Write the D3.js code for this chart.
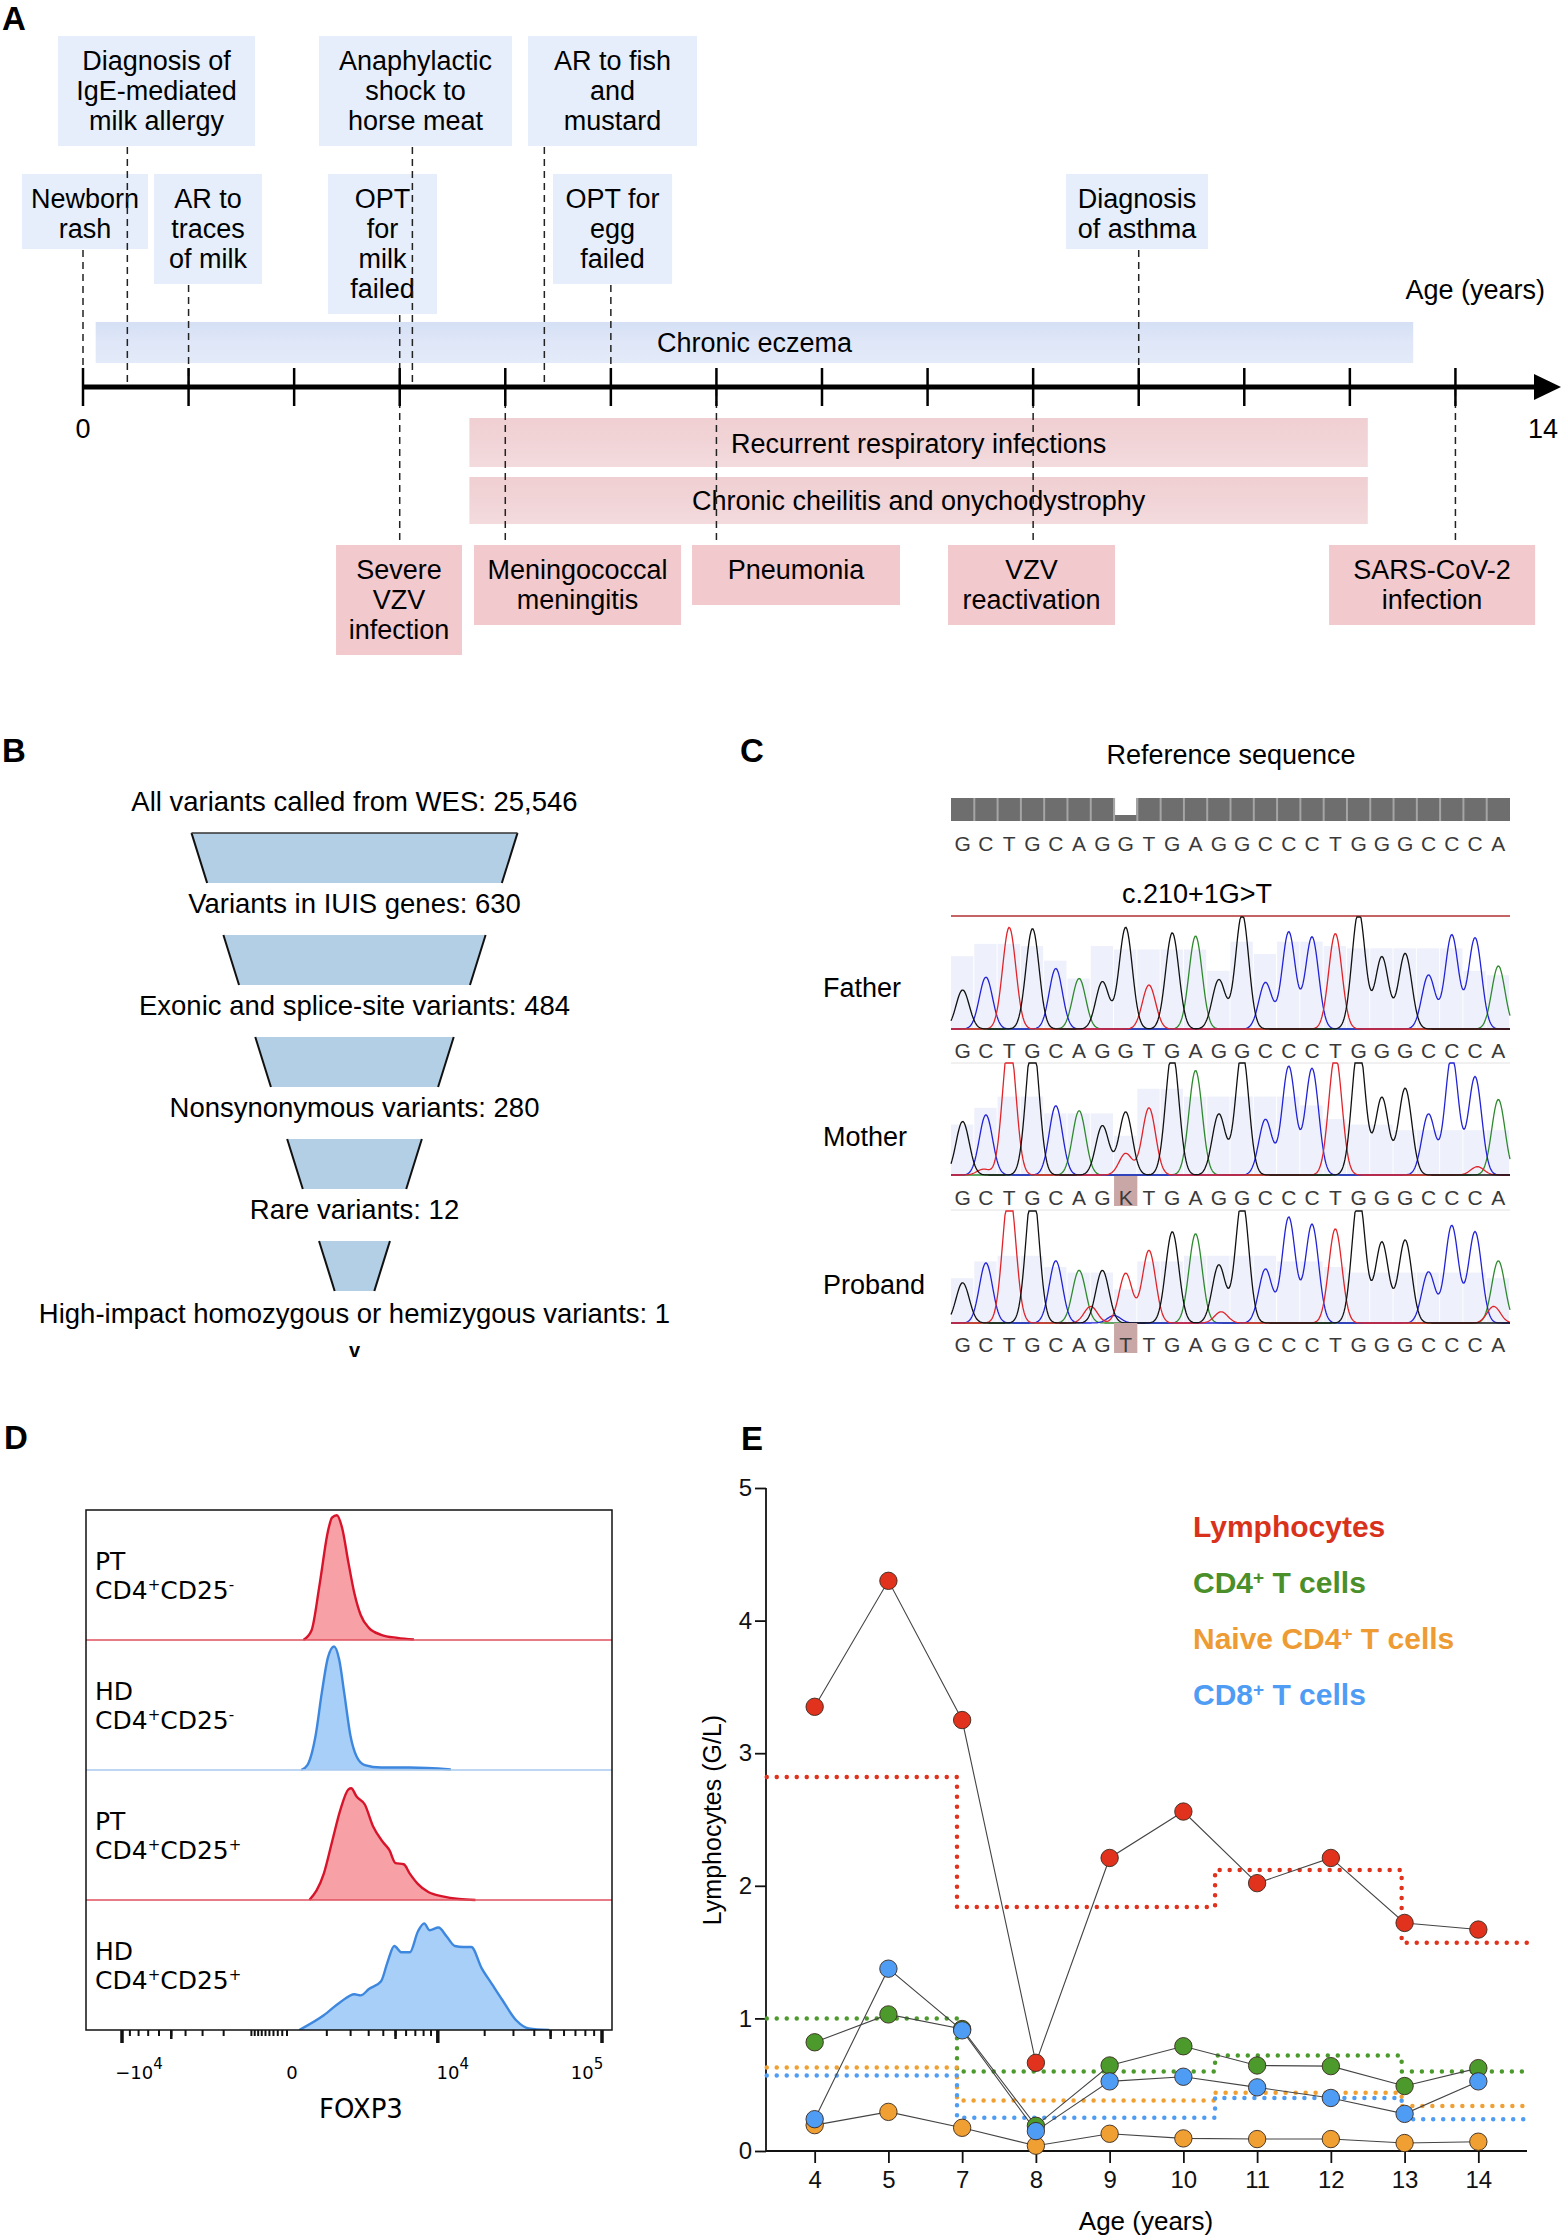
<!DOCTYPE html>
<html><head><meta charset="utf-8">
<script src="https://cdn.jsdelivr.net/npm/d3@7"></script>
<style>body{margin:0;background:#fff}svg{display:block}</style>
</head><body>
<svg id="fig" width="1564" height="2239"></svg>
<script>
// ================= DATA =================
// Panel A – timeline (ages in years)
const timelineTicks = d3.range(0, 14);
const timelineEnd = 14;
const spanLabels = ["Chronic eczema", "Recurrent respiratory infections", "Chronic cheilitis and onychodystrophy"];
const spanStart = [0.12, 3.66, 3.66];
const spanEnd = [12.6, 12.17, 12.17];
const spanKind = ["allergy", "infection", "infection"];

const eventLabels = [
  ["Newborn", "rash"], ["Diagnosis of", "IgE-mediated", "milk allergy"], ["AR to", "traces", "of milk"],
  ["OPT", "for", "milk", "failed"], ["Anaphylactic", "shock to", "horse meat"], ["AR to fish", "and", "mustard"],
  ["OPT for", "egg", "failed"], ["Diagnosis", "of asthma"], ["Severe", "VZV", "infection"],
  ["Meningococcal", "meningitis"], ["Pneumonia"], ["VZV", "reactivation"], ["SARS-CoV-2", "infection"]
];
const eventAge = [0, 0.42, 1, 3, 3.12, 4.37, 5, 10, 3, 4, 6, 9, 13];
const eventBoxFrom = [-0.578, -0.237, 0.673, 2.321, 2.236, 4.215, 4.452, 9.311, 2.397, 3.704, 5.769, 8.194, 11.803];
const eventBoxTo = [0.616, 1.629, 1.696, 3.353, 4.064, 5.816, 5.580, 10.656, 3.590, 5.665, 7.739, 9.776, 13.755];
const eventTier = [2, 1, 2, 2, 1, 1, 2, 2, 3, 3, 3, 3, 3];
const eventKind = ["allergy","allergy","allergy","allergy","allergy","allergy","allergy","allergy","infection","infection","infection","infection","infection"];

// Panel B – variant filtering funnel
const funnelLabels = ["All variants called from WES: 25,546", "Variants in IUIS genes: 630",
  "Exonic and splice-site variants: 484", "Nonsynonymous variants: 280", "Rare variants: 12",
  "High-impact homozygous or hemizygous variants: 1"];

// Panel C – Sanger sequencing
const refSequence = "GCTGCAGGTGAGGCCCTGGGCCCA".split("");
const variantIndex = 7;
const sampleNames = ["Father", "Mother", "Proband"];
const sampleCalls = ["GCTGCAGGTGAGGCCCTGGGCCCA".split(""), "GCTGCAGKTGAGGCCCTGGGCCCA".split(""), "GCTGCAGTTGAGGCCCTGGGCCCA".split("")];
const fatherPeaks = [94,125,245,242,146,122,114,245,106,232,224,119,278,112,234,222,230,285,174,182,130,227,220,152];
const motherPeaks = [129,145,330,330,167,155,119,152,162,300,252,147,300,134,262,257,290,320,187,209,147,290,237,182];
const probandPeaks = [97,145,320,330,150,127,127,120,175,220,215,140,300,130,255,238,227,310,195,200,123,235,220,150];
const peakBase = [
  "GCTGCAGGTGAGGCCCTGGGCCCA".split(""),
  "GCTGCAGGTGAGGCCCTGGGCCCA".split(""),
  "GCTGCAGTTGAGGCCCTGGGCCCA".split("")
];
// minor peaks: [sample, position, base, height]
const minorPeaks = [[1, 7, "T", 52], [1, 0.9, "T", 14], [1, 22.1, "T", 20], [2, 5.5, "T", 40], [2, 11.1, "T", 27], [2, 22.8, "T", 40], [2, 6.5, "C", 18]];
const fatherQual = [0.65,0.76,0.76,0.74,0.61,0.45,0.74,0.71,0.71,0.71,0.71,0.52,0.78,0.67,0.78,0.78,0.74,0.72,0.72,0.72,0.72,0.72,0.52,0.48];
const motherQual = [0.45,0.6,0.7,0.7,0.55,0.55,0.55,0.35,0.77,0.77,0.7,0.7,0.7,0.7,0.7,0.62,0.5,0.45,0.45,0.4,0.4,0.4,0.4,0.4];
const probandQual = [0.4,0.55,0.6,0.6,0.5,0.45,0.45,0.3,0.55,0.55,0.6,0.6,0.6,0.6,0.55,0.55,0.5,0.45,0.45,0.45,0.45,0.45,0.45,0.4];

// Panel D – FOXP3 histograms (FOXP3 intensity, % of mode)
const histNames = ["PT", "HD", "PT", "HD"];
const histCD25 = ["-", "-", "+", "+"];
const histGroup = ["PT", "HD", "PT", "HD"];
const histModeHeight = [0.96, 0.95, 0.86, 0.82];
const hist1X = [276,503,757,1039,1192,1386,1610,1894,2195,2528,3012,3837,5175,6836];
const hist1Y = [0,7.6,45,87,98,100,89.5,62,37,20,9.7,4.2,1.7,0.4];
const hist2X = [221,386,627,823,1039,1270,1485,1703,1990,2305,2764,3837,6387,12186];
const hist2Y = [0,4,28,62,91,100,89,62,28,11,4,2,2,0.4];
const hist3X = [443,894,1192,1524,1894,2030,2305,2764,3275,3969,4469,4996,5762,6387,7311,8621,10763,13770,17504];
const hist3Y = [0,23.6,51.9,80.2,99,100,92.5,85.4,66,51.9,44.8,33,32,23.6,14.2,7.1,3.3,0.9,0];
const hist4X = [171,894,1524,2195,2528,3012,3837,4309,4891,5558,6387,7311,8079,8787,10107,11456,12960,14630,16490,19138,22138,25564,31256,37052,49061];
const hist4Y = [0,13.8,26.1,33.5,32.5,38.4,45.8,63,78.8,72.9,72.9,92.6,100,93.6,96.1,87.7,78.8,77.8,77.8,58.1,43.3,28.6,8.9,1.5,0];
const foxp3MajorTicks = [-1e4, 1e4, 1e5];
const foxp3TickLabels = [["\u221210", "4"], ["0", ""], ["10", "4"], ["10", "5"]];
const foxp3LabelValues = [-1e4, 0, 1e4, 1e5];

// Panel E – lymphocyte counts (G/L)
const agesE = ["4", "5", "7", "8", "9", "10", "11", "12", "13", "14"];
const lymphocytes = [3.35, 4.30, 3.25, 0.665, 2.21, 2.56, 2.02, 2.21, 1.72, 1.67];
const cd4Cells = [0.82, 1.03, 0.92, 0.19, 0.645, 0.79, 0.645, 0.64, 0.49, 0.625];
const naiveCd4Cells = [0.195, 0.295, 0.175, 0.04, 0.13, 0.095, 0.09, 0.09, 0.06, 0.07];
const cd8Cells = [0.24, 1.375, 0.91, 0.15, 0.525, 0.56, 0.48, 0.40, 0.28, 0.525];
// age-specific lower reference limits (step changes between categories, index units)
const refBreaks = [-0.65, 1.93, 5.43, 7.96, 9.67];
const refLymph = [2.82, 1.84, 2.12, 1.57];
const refCd4 = [1.0, 0.60, 0.72, 0.60];
const refNaive = [0.63, 0.38, 0.44, 0.34];
const refCd8 = [0.57, 0.25, 0.40, 0.24];
const seriesNames = ["Lymphocytes", "CD4", "Naive CD4", "CD8"];
const yTicksE = [0, 1, 2, 3, 4, 5];

// ================= DRAWING =================
const SANS = "'Liberation Sans', Arial, Helvetica, sans-serif";
const DV = "'DejaVu Sans', Verdana, sans-serif";
const svg = d3.select("#fig").attr("font-family", SANS);
const defs = svg.append("defs");

function grad(id, stops, x2, y2) {
  const g = defs.append("linearGradient").attr("id", id).attr("x1", 0).attr("y1", 0).attr("x2", x2).attr("y2", y2);
  stops.forEach((c, i) => g.append("stop").attr("offset", i / (stops.length - 1)).attr("stop-color", c));
}
grad("gEcz", ["#d5e0f5", "#dfe7f8", "#e3eaf8"], 0, 1);
grad("gInf", ["#f0cfd2", "#f1d4d7", "#f3dbdd"], 0, 1);

// panel letters
[["A", 2, 30], ["B", 2, 762], ["C", 740, 762], ["D", 4, 1449], ["E", 741, 1450]].forEach(([t, x, y]) =>
  svg.append("text").attr("x", x).attr("y", y).attr("font-size", 33).attr("font-weight", "bold").text(t));

// ---------- Panel A ----------
(function () {
  const g = svg.append("g");
  const x = d3.scaleLinear().domain([0, timelineEnd]).range([83, 1561]);
  const axisY = 387;
  const tierTop = {1: 36, 2: 174, 3: 545};
  const fs = 27, lh = 30;
  const spanY = {0: [322, 363], 1: [418, 467], 2: [477, 524]};

  spanLabels.forEach((lab, i) => {
    const [y0, y1] = spanY[i];
    g.append("rect").attr("x", x(spanStart[i])).attr("y", y0).attr("width", x(spanEnd[i]) - x(spanStart[i]))
      .attr("height", y1 - y0).attr("fill", spanKind[i] === "allergy" ? "url(#gEcz)" : "url(#gInf)");
    g.append("text").attr("x", (x(spanStart[i]) + x(spanEnd[i])) / 2).attr("y", y1 - (i === 0 ? 11 : 14))
      .attr("text-anchor", "middle").attr("font-size", fs).text(lab);
  });

  const boxes = eventLabels.map((lines, i) => {
    const top = tierTop[eventTier[i]];
    const h = Math.max(60, lines.length * lh + (eventTier[i] === 2 && lines.length === 2 ? 15 : 20));
    return {i, lines, top, h, x0: x(eventBoxFrom[i]), x1: x(eventBoxTo[i])};
  });
  boxes.forEach(b => {
    g.append("rect").attr("x", b.x0).attr("y", b.top).attr("width", b.x1 - b.x0).attr("height", b.h)
      .attr("fill", eventKind[b.i] === "allergy" ? "#e6eefb" : "#f2c9cd");
    const t = g.append("text").attr("text-anchor", "middle").attr("font-size", fs);
    b.lines.forEach((l, k) => t.append("tspan").attr("x", (b.x0 + b.x1) / 2).attr("y", b.top + 34 + k * lh).text(l));
  });
  boxes.forEach(b => {
    const ex = x(eventAge[b.i]);
    const [ya, yb] = eventTier[b.i] === 3 ? [axisY + 2, b.top] : [b.top + b.h + 1, axisY - 2];
    g.append("line").attr("x1", ex).attr("x2", ex).attr("y1", ya).attr("y2", yb)
      .attr("stroke", "#222").attr("stroke-width", 1.5).attr("stroke-dasharray", "7,5");
  });

  g.append("line").attr("x1", x(0)).attr("x2", x(timelineEnd) - 20).attr("y1", axisY).attr("y2", axisY)
    .attr("stroke", "#000").attr("stroke-width", 5);
  g.append("path").attr("d", `M${x(timelineEnd)},${axisY} L${x(timelineEnd) - 27},${axisY - 13} L${x(timelineEnd) - 27},${axisY + 13} Z`).attr("fill", "#000");
  g.selectAll(".tk").data(timelineTicks).join("line").attr("x1", d => x(d)).attr("x2", d => x(d))
    .attr("y1", axisY - 19).attr("y2", axisY + 19).attr("stroke", "#000").attr("stroke-width", 2.5);
  g.append("text").attr("x", x(0)).attr("y", 438).attr("text-anchor", "middle").attr("font-size", fs).text("0");
  g.append("text").attr("x", x(timelineEnd) - 18).attr("y", 438).attr("text-anchor", "middle").attr("font-size", fs).text(String(timelineEnd));
  g.append("text").attr("x", 1545).attr("y", 299).attr("text-anchor", "end").attr("font-size", fs).text("Age (years)");
})();

// ---------- Panel B ----------
(function () {
  const g = svg.append("g");
  const cx = 354.5;
  const yStage = d3.scaleLinear().domain([0, 4]).range([833, 1241]);
  const trapH = 50;
  const width = d3.scaleLinear().domain([833, 1292]).range([326, 39]);
  d3.range(5).forEach(i => {
    const y0 = yStage(i), y1 = y0 + trapH;
    const w0 = width(y0) / 2, w1 = width(y1) / 2;
    g.append("path").attr("d", `M${cx - w0},${y0} L${cx + w0},${y0} L${cx + w1},${y1} L${cx - w1},${y1} Z`).attr("fill", "#b3cfe6");
    g.append("line").attr("x1", cx - w0).attr("y1", y0).attr("x2", cx - w1).attr("y2", y1).attr("stroke", "#111").attr("stroke-width", 2);
    g.append("line").attr("x1", cx + w0).attr("y1", y0).attr("x2", cx + w1).attr("y2", y1).attr("stroke", "#111").attr("stroke-width", 2);
    if (i === 0) g.append("line").attr("x1", cx - w0).attr("x2", cx + w0).attr("y1", y0).attr("y2", y0).attr("stroke", "#333").attr("stroke-width", 1.5);
  });
  funnelLabels.forEach((lab, i) => {
    const y = i < 5 ? yStage(i) - 22 : yStage(4) + trapH + 32;
    g.append("text").attr("x", cx).attr("y", y).attr("text-anchor", "middle").attr("font-size", 27.5).text(lab);
  });
  g.append("text").attr("x", cx).attr("y", 1357).attr("text-anchor", "middle").attr("font-size", 20).attr("font-weight", "bold").text("v");
})();

// ---------- Panel C ----------
(function () {
  const g = svg.append("g");
  const x = d3.scaleBand().domain(d3.range(refSequence.length)).range([951, 1510]);
  const bw = x.bandwidth();
  const seqFont = 21;
  g.append("text").attr("x", 1231).attr("y", 764).attr("text-anchor", "middle").attr("font-size", 27).text("Reference sequence");
  refSequence.forEach((b, i) => {
    g.append("rect").attr("x", x(i)).attr("y", 798).attr("width", bw).attr("height", 23).attr("fill", "#6e6e6e");
    if (i === variantIndex) g.append("rect").attr("x", x(i) + 1).attr("y", 798).attr("width", bw - 2).attr("height", 17).attr("fill", "#fff");
  });
  refSequence.forEach((b, i) => {
    if (i > 0) g.append("line").attr("x1", x(i)).attr("x2", x(i)).attr("y1", 798).attr("y2", 821).attr("stroke", "#a5a5a5").attr("stroke-width", 2);
  });
  const letters = (seq, y) => seq.forEach((b, i) => g.append("text").attr("x", x(i) + bw / 2).attr("y", y)
    .attr("text-anchor", "middle").attr("font-size", seqFont).attr("fill", "#3a3a3a").text(b));
  letters(refSequence, 851);
  g.append("text").attr("x", 1197).attr("y", 903).attr("text-anchor", "middle").attr("font-size", 27).text("c.210+1G>T");
  g.append("line").attr("x1", 951).attr("x2", 1510).attr("y1", 916).attr("y2", 916).attr("stroke", "#b03030").attr("stroke-width", 1.5);

  const tops = [917, 1063, 1211];
  const H = 112;
  const letterY = [1058, 1205, 1352];
  const labelY = [997, 1146, 1294];
  const peaks = [fatherPeaks, motherPeaks, probandPeaks];
  const quals = [fatherQual, motherQual, probandQual];
  const baseColor = {G: "#111", C: "#2323d6", T: "#e0242a", A: "#2f8a2f"};
  const sigma = 6.6;
  const xs = d3.range(951, 1511, 1);
  tops.forEach((top, s) => {
    const y = d3.scaleLinear().domain([0, 270]).range([top + H, top]).clamp(true);
    quals[s].forEach((q, i) => g.append("rect").attr("x", x(i)).attr("y", y(q * 270)).attr("width", bw - 1)
      .attr("height", y(0) - y(q * 270)).attr("fill", "#eef0fb"));
    const allPeaks = peaks[s].map((h, i) => ({pos: i, base: peakBase[s][i], h}));
    minorPeaks.filter(m => m[0] === s).forEach(m => allPeaks.push({pos: m[1], base: m[2], h: m[3]}));
    ["A", "C", "T", "G"].forEach(base => {
      const pk = allPeaks.filter(p => p.base === base);
      const pts = xs.map(px => [px, d3.sum(pk, p => p.h * Math.exp(-0.5 * Math.pow((px - (x(p.pos | 0) + bw / 2 + (p.pos % 1) * bw)) / sigma, 2)))]);
      g.append("path").attr("d", d3.line().x(d => d[0]).y(d => y(d[1]))(pts)).attr("fill", "none")
        .attr("stroke", baseColor[base]).attr("stroke-width", 1.3);
    });
    if (s > 0) g.append("rect").attr("x", x(variantIndex)).attr("y", letterY[s] - 29).attr("width", bw).attr("height", 30).attr("fill", "#c9a7a7");
    letters(sampleCalls[s], letterY[s]);
    if (s < 2) g.append("line").attr("x1", 951).attr("x2", 1510).attr("y1", letterY[s] + 5).attr("y2", letterY[s] + 5).attr("stroke", "#e2e2e2");
    g.append("text").attr("x", 823).attr("y", labelY[s]).attr("font-size", 27).text(sampleNames[s]);
  });
})();

// ---------- Panel D ----------
(function () {
  const g = svg.append("g").attr("font-family", DV);
  const left = 86, right = 612, top = 1510, rowH = 130;
  const xPos = d3.scaleSymlog().constant(1720).domain([0, 1e5]).range([292, 602]);
  const xNeg = d3.scaleSymlog().constant(1720).domain([-1e4, 0]).range([122, 292]);
  const x = v => (v >= 0 ? xPos(v) : xNeg(v));
  const hx = [hist1X, hist2X, hist3X, hist4X], hy = [hist1Y, hist2Y, hist3Y, hist4Y];
  const col = {PT: ["#d8142b", "#f7a0a6"], HD: ["#3d87de", "#a7cff8"]};
  const clip = defs.append("clipPath").attr("id", "clipD");
  clip.append("rect").attr("x", left).attr("y", top).attr("width", right - left).attr("height", rowH * 4);
  hx.forEach((xs, r) => {
    const base = top + (r + 1) * rowH;
    const y = d3.scaleLinear().domain([0, 100]).range([base, base - rowH * histModeHeight[r]]);
    const data = xs.map((v, k) => [v, hy[r][k]]);
    const [stroke, fill] = col[histGroup[r]];
    const area = d3.area().x(d => x(d[0])).y0(base).y1(d => y(d[1])).curve(d3.curveMonotoneX);
    const line = d3.line().x(d => x(d[0])).y(d => y(d[1])).curve(d3.curveMonotoneX);
    g.append("path").attr("d", area(data)).attr("fill", fill).attr("clip-path", "url(#clipD)");
    g.append("path").attr("d", line(data)).attr("fill", "none").attr("stroke", stroke).attr("stroke-width", 2.4).attr("clip-path", "url(#clipD)");
    if (r < 3) g.append("line").attr("x1", left).attr("x2", right).attr("y1", base).attr("y2", base)
      .attr("stroke", histGroup[r] === "PT" ? "#e0505e" : "#a9c9ec").attr("stroke-width", 1.4);
    const t = g.append("text").attr("font-size", 25);
    t.append("tspan").attr("x", 95).attr("y", top + r * rowH + 60).text(histNames[r]);
    const t2 = g.append("text").attr("font-size", 25).attr("x", 95).attr("y", top + r * rowH + 89);
    t2.append("tspan").text("CD4");
    t2.append("tspan").attr("dy", -9).attr("font-size", 15).text("+");
    t2.append("tspan").attr("dy", 9).text("CD25");
    t2.append("tspan").attr("dy", -9).attr("font-size", 15).text(histCD25[r] === "-" ? "-" : "+");
  });
  g.append("rect").attr("x", left).attr("y", top).attr("width", right - left).attr("height", rowH * 4)
    .attr("fill", "none").attr("stroke", "#111").attr("stroke-width", 1.5);
  const axisY = top + rowH * 4;
  const minor = d3.range(-9000, 0, 1000).concat(d3.range(-900, 0, 100), d3.range(1000, 10000, 1000), d3.range(20000, 100000, 10000));
  const mid = [-5000, 5000, 50000];
  g.selectAll(".mn").data(minor).join("line").attr("x1", d => x(d)).attr("x2", d => x(d)).attr("y1", axisY).attr("y2", axisY + 6)
    .attr("stroke", "#111").attr("stroke-width", 2);
  g.selectAll(".md").data(mid).join("line").attr("x1", d => x(d)).attr("x2", d => x(d)).attr("y1", axisY).attr("y2", axisY + 9)
    .attr("stroke", "#111").attr("stroke-width", 2.5);
  g.selectAll(".mj").data(foxp3MajorTicks).join("line").attr("x1", d => x(d)).attr("x2", d => x(d)).attr("y1", axisY).attr("y2", axisY + 13)
    .attr("stroke", "#111").attr("stroke-width", 3.5);
  const labOff = [17, 0, 15, -15];
  foxp3TickLabels.forEach(([b, e], i) => {
    const t = g.append("text").attr("x", x(foxp3LabelValues[i]) + labOff[i]).attr("y", 2079).attr("text-anchor", "middle").attr("font-size", 18);
    t.append("tspan").text(b);
    if (e) t.append("tspan").attr("dy", -10).attr("font-size", 15).text(e);
  });
  g.append("text").attr("x", 361).attr("y", 2118).attr("text-anchor", "middle").attr("font-size", 26).text("FOXP3");
})();

// ---------- Panel E ----------
(function () {
  const g = svg.append("g");
  const x = d3.scalePoint().domain(agesE).range([766, 1527]).padding(0.66);
  const xi = d3.scaleLinear().domain([0, agesE.length - 1]).range([x(agesE[0]), x(agesE[agesE.length - 1])]);
  const y = d3.scaleLinear().domain([0, 5]).range([2151, 1488]);
  const colors = ["#e0321c", "#4c9a2c", "#f0a032", "#4f9cf5"];
  const refs = [refLymph, refCd4, refNaive, refCd8];
  const vals = [lymphocytes, cd4Cells, naiveCd4Cells, cd8Cells];

  const ya = g.append("g").attr("transform", "translate(766,0)")
    .call(d3.axisLeft(y).tickValues(yTicksE).tickSize(11).tickPadding(3).tickFormat(d3.format("d")));
  const xa = g.append("g").attr("transform", "translate(0,2151)")
    .call(d3.axisBottom(x).tickSize(12).tickPadding(8));
  [ya, xa].forEach(a => {
    a.attr("font-size", 24).attr("font-family", SANS);
    a.select(".domain").attr("stroke", "#111").attr("stroke-width", 1.8);
    a.selectAll(".tick line").attr("stroke", "#111").attr("stroke-width", 1.8);
    a.selectAll("text").attr("font-size", 24).attr("fill", "#111");
  });
  ya.select(".domain").attr("d", "M0,2151V1488");
  xa.select(".domain").attr("d", "M766,0H1527");

  refs.forEach((lv, s) => {
    const pts = [];
    lv.forEach((v, k) => { pts.push([xi(refBreaks[k]), y(v)]); pts.push([xi(refBreaks[k + 1]), y(v)]); });
    g.append("path").attr("d", d3.line()(pts)).attr("fill", "none").attr("stroke", colors[s])
      .attr("stroke-width", 4.5).attr("stroke-dasharray", "0,10").attr("stroke-linecap", "round");
  });
  vals.forEach((vs, s) => {
    const data = vs.map((v, k) => [agesE[k], v]);
    g.append("path").attr("d", d3.line().x(d => x(d[0])).y(d => y(d[1]))(data)).attr("fill", "none")
      .attr("stroke", "#444").attr("stroke-width", 1.1);
  });
  vals.forEach((vs, s) => {
    g.selectAll(".pt" + s).data(vs).join("circle").attr("cx", (d, k) => x(agesE[k])).attr("cy", d => y(d))
      .attr("r", 8.7).attr("fill", colors[s]).attr("stroke", "#3a2a20").attr("stroke-width", 0.9);
  });
  const legendText = [[["Lymphocytes", false]], [["CD4", false], ["+", true], [" T cells", false]],
    [["Naive CD4", false], ["+", true], [" T cells", false]], [["CD8", false], ["+", true], [" T cells", false]]];
  const legCol = ["#d9321c", "#4a8f2a", "#ee9b34", "#4f9cf5"];
  legendText.forEach((parts, i) => {
    const t = g.append("text").attr("x", 1193).attr("y", 1537 + i * 56).attr("font-size", 30).attr("font-weight", "bold").attr("fill", legCol[i]);
    let up = false;
    parts.forEach(([txt, sup]) => {
      const ts = t.append("tspan").text(txt);
      if (sup) { ts.attr("dy", -9).attr("font-size", 19); up = true; }
      else if (up) { ts.attr("dy", 9); up = false; }
    });
  });
  g.append("text").attr("x", 1146).attr("y", 2230).attr("text-anchor", "middle").attr("font-size", 26).text("Age (years)");
  g.append("text").attr("transform", "translate(721,1820) rotate(-90)").attr("text-anchor", "middle").attr("font-size", 25).text("Lymphocytes (G/L)");
})();
</script>
</body></html>
